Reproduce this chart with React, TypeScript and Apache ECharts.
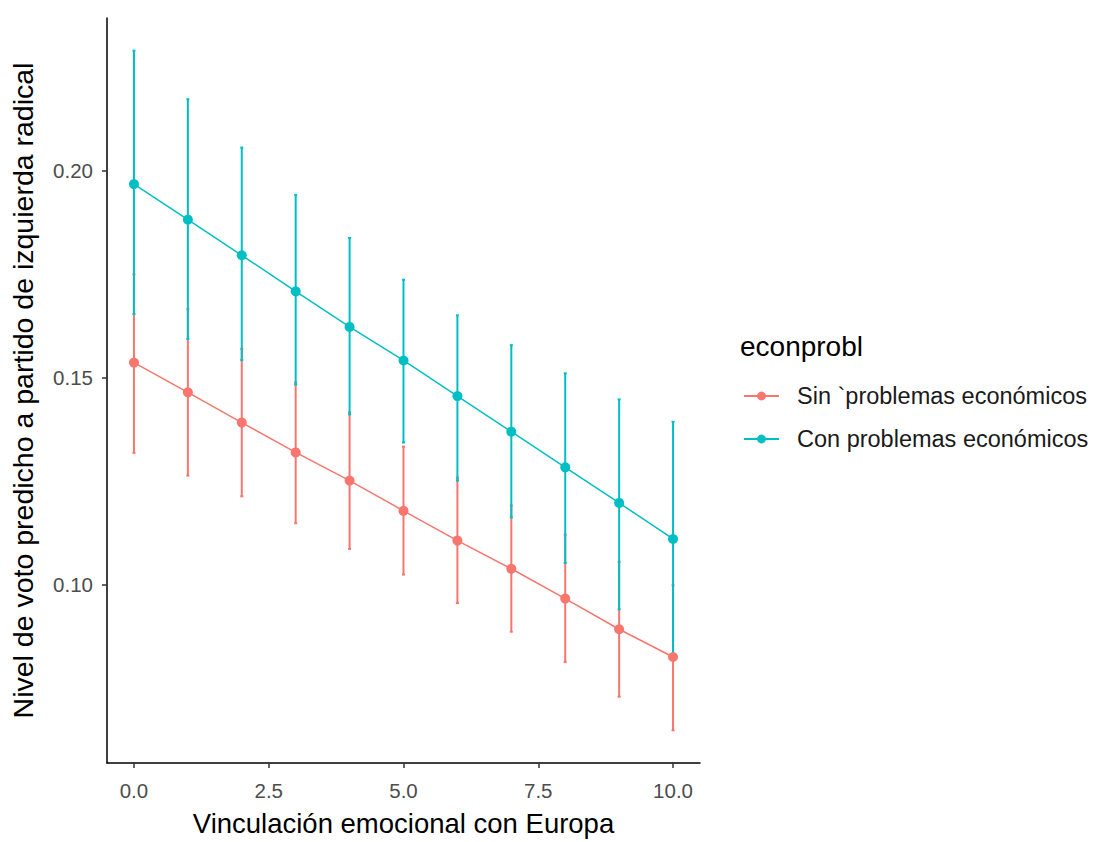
import React, { useEffect, useRef } from "react";
import * as echarts from "echarts";

const xs = [0, 1, 2, 3, 4, 5, 6, 7, 8, 9, 10];
const sinMean = [0.1536, 0.1464, 0.1391, 0.1319, 0.1251, 0.1178, 0.1106, 0.1038, 0.0966, 0.0892, 0.0825];
const sinLo = [0.1318, 0.1263, 0.1213, 0.1148, 0.1086, 0.1024, 0.0955, 0.0886, 0.0813, 0.0729, 0.0648];
const sinHi = [0.1749, 0.1665, 0.1569, 0.1488, 0.1416, 0.1333, 0.1258, 0.1191, 0.112, 0.1055, 0.0998];
const conMean = [0.1967, 0.1881, 0.1795, 0.1708, 0.1622, 0.1541, 0.1455, 0.1369, 0.1283, 0.1197, 0.111];
const conLo = [0.1653, 0.1593, 0.1542, 0.1483, 0.1411, 0.1343, 0.1251, 0.1162, 0.1052, 0.094, 0.0828];
const conHi = [0.2289, 0.2172, 0.2055, 0.1941, 0.1837, 0.1736, 0.165, 0.1578, 0.151, 0.1447, 0.1393];
const xTicks = [0, 2.5, 5, 7.5, 10];
const yTicks = [0.1, 0.15, 0.2];
const seriesNames = ["Sin `problemas económicos", "Con problemas económicos"];
const colors = ["#F8766D", "#00BFC4"];
const legendTitle = "econprobl";
const xTitle = "Vinculación emocional con Europa";
const yTitle = "Nivel de voto predicho a partido de izquierda radical";

const FONT = "'Liberation Sans', Arial, sans-serif";

function errorBarSeries(lo: number[], hi: number[], color: string, z: number) {
  return {
    type: "custom",
    z,
    silent: true,
    data: xs.map((x, i) => [x, lo[i], hi[i]]),
    encode: { x: 0, y: [1, 2] },
    renderItem: (params: any, api: any) => {
      const p1 = api.coord([api.value(0), api.value(1)]);
      const p2 = api.coord([api.value(0), api.value(2)]);
      const style = { stroke: color, lineWidth: 2 };
      const cw = 1.5;
      return {
        type: "group",
        children: [
          { type: "line", shape: { x1: p1[0], y1: p1[1], x2: p2[0], y2: p2[1] }, style },
          { type: "line", shape: { x1: p1[0] - cw, y1: p1[1], x2: p1[0] + cw, y2: p1[1] }, style },
          { type: "line", shape: { x1: p2[0] - cw, y1: p2[1], x2: p2[0] + cw, y2: p2[1] }, style },
        ],
      };
    },
  };
}

function lineSeries(name: string, mean: number[], color: string) {
  return {
    type: "line",
    name,
    z: 5,
    data: xs.map((x, i) => [x, mean[i]]),
    symbol: "circle",
    symbolSize: 10,
    lineStyle: { color, width: 1.5 },
    itemStyle: { color },
  };
}

export default function App() {
  const ref = useRef<HTMLDivElement>(null);
  useEffect(() => {
    document.body.style.margin = "0";
    const chart = echarts.init(ref.current!, null, { renderer: "svg" });
    chart.setOption({
      animation: false,
      backgroundColor: "#ffffff",
      textStyle: { fontFamily: FONT },
      grid: { left: 103, right: 397, top: 18, bottom: 72, containLabel: false },
      xAxis: {
        type: "value",
        min: -0.5,
        max: 10.5,
        name: xTitle,
        nameLocation: "middle",
        nameGap: 46,
        nameTextStyle: { fontSize: 27.5, color: "#000000", fontFamily: FONT },
        axisLine: { show: true, onZero: false, lineStyle: { color: "#000000", width: 1.5 } },
        axisTick: { show: true, length: 5, customValues: xTicks, lineStyle: { color: "#333333", width: 1.5 } },
        axisLabel: {
          customValues: xTicks,
          formatter: (v: number) => v.toFixed(1),
          fontSize: 20.5,
          color: "#4D4D4D",
          margin: 17,
          fontFamily: FONT,
        },
        splitLine: { show: false },
      },
      yAxis: {
        type: "value",
        min: 0.0569,
        max: 0.2368,
        name: yTitle,
        nameLocation: "middle",
        nameGap: 70,
        nameRotate: 90,
        nameTextStyle: { fontSize: 28.5, color: "#000000", fontFamily: FONT },
        axisLine: { show: true, onZero: false, lineStyle: { color: "#000000", width: 1.5 } },
        axisTick: { show: true, length: 5, customValues: yTicks, lineStyle: { color: "#333333", width: 1.5 } },
        axisLabel: {
          customValues: yTicks,
          formatter: (v: number) => v.toFixed(2),
          fontSize: 20.5,
          color: "#4D4D4D",
          margin: 14,
          fontFamily: FONT,
        },
        splitLine: { show: false },
      },
      legend: {
        orient: "vertical",
        left: 738,
        top: 379,
        itemWidth: 35,
        itemHeight: 11,
        itemGap: 19,
        data: seriesNames,
        textStyle: { fontSize: 23.5, color: "#1a1a1a", fontFamily: FONT, lineHeight: 24, padding: [0, 0, 0, 13] },
      },
      graphic: [
        {
          type: "text",
          left: 740,
          top: 332,
          style: { text: legendTitle, fontSize: 28, fill: "#000000", fontFamily: FONT },
        },
      ],
      series: [
        errorBarSeries(sinLo, sinHi, colors[0], 1),
        errorBarSeries(conLo, conHi, colors[1], 2),
        lineSeries(seriesNames[0], sinMean, colors[0]),
        lineSeries(seriesNames[1], conMean, colors[1]),
      ],
    });
    return () => chart.dispose();
  }, []);
  return <div ref={ref} style={{ width: 1097, height: 842 }} />;
}
